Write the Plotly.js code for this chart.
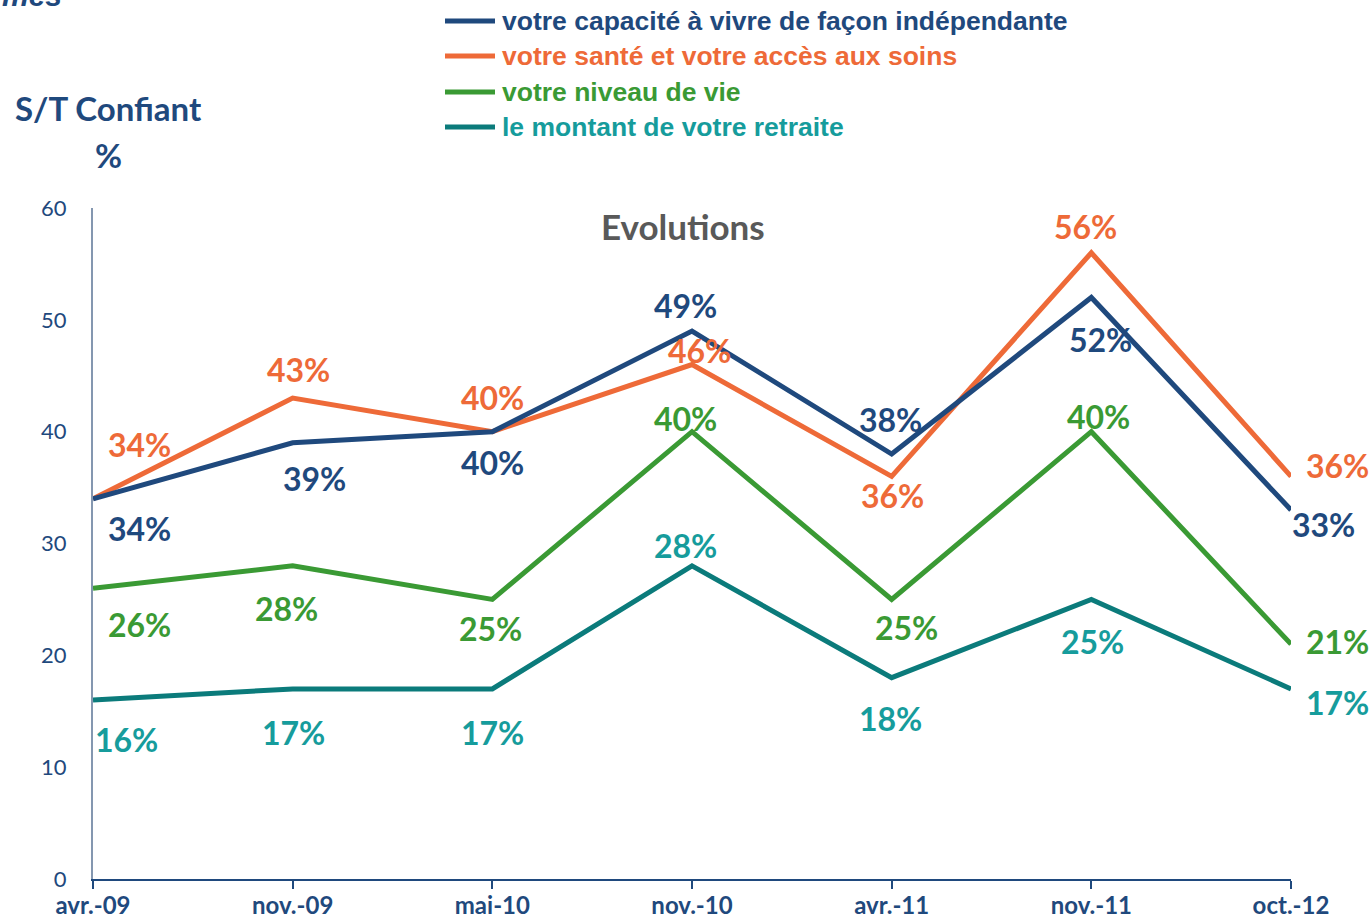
<!DOCTYPE html>
<html>
<head>
<meta charset="utf-8">
<script src="https://cdn.plot.ly/plotly-3.0.1.min.js"></script>
<style>
  body { margin: 0; background: #fff; }
  #chart { width: 1372px; height: 920px; }
</style>
</head>
<body>
<div id="chart"></div>
<script>
// periods
var periods = ['avr.-09', 'nov.-09', 'mai-10', 'nov.-10', 'avr.-11', 'nov.-11', 'oct.-12'];

// % confiant
var independance = [34, 39, 40, 49, 38, 52, 33];
var sante = [34, 43, 40, 46, 36, 56, 36];
var niveauVie = [26, 28, 25, 40, 25, 40, 21];
var retraite = [16, 17, 17, 28, 18, 25, 17];

var names = [
    'votre capacité à vivre de façon indépendante',
    'votre santé et votre accès aux soins',
    'votre niveau de vie',
    'le montant de votre retraite'
];
var lineColors = ['#1F497D', '#EE6A38', '#3A9A34', '#0B7B7B'];
var labelColors = ['#1F497D', '#EE6A38', '#3A9A34', '#169C9C'];

// label offsets in px (dx, dy down) for each point
var offsets = [
    [[46, 30], [22, 36], [0, 31], [-7, -26], [-1, -35], [9, 42], [32, 15]],
    [[46, -54], [6, -29], [0, -34], [7, -14], [1, 19], [-6, -26], [46, -11]],
    [[46, 36], [-6, 43], [-2, 29], [-7, -13], [15, 28], [7, -15], [46, -3]],
    [[33, 39], [1, 44], [0, 44], [-7, -20], [-1, 41], [1, 42], [46, 14]]
];

var series = [independance, sante, niveauVie, retraite];

// plot box in px
var L = 93, R = 81, T = 208, B = 41, W = 1372, H = 920;
function px(x) { return (x - L) / (W - L - R); }
function py(y) { return (H - B - y) / (H - T - B); }

var data = [];
var annotations = [];
var shapes = [];

// draw order: teal, green, orange, blue on top
[3, 2, 1, 0].forEach(function (s) {
    data.push({
        x: periods,
        y: series[s],
        type: 'scatter',
        mode: 'lines',
        name: names[s],
        line: { color: lineColors[s], width: 5 },
        cliponaxis: false,
        showlegend: false,
        hoverinfo: 'skip'
    });
});

series.forEach(function (vals, s) {
    vals.forEach(function (v, i) {
        annotations.push({
            x: periods[i], y: v, xref: 'x', yref: 'y',
            text: v + '%',
            showarrow: false,
            xshift: offsets[s][i][0],
            yshift: -offsets[s][i][1],
            font: { family: 'Lato', size: 32, color: labelColors[s], weight: 'bold' }
        });
    });
});

// legend on top
var legendY = [21, 56, 92, 127];
names.forEach(function (n, s) {
    shapes.push({
        type: 'line', xref: 'paper', yref: 'paper',
        x0: px(445), x1: px(495), y0: py(legendY[s]), y1: py(legendY[s]),
        line: { color: lineColors[s], width: 5 }
    });
    annotations.push({
        xref: 'paper', yref: 'paper', x: px(500), y: py(legendY[s]),
        xanchor: 'left', yanchor: 'middle', showarrow: false,
        text: '<b>' + n + '</b>',
        font: { family: 'Liberation Sans', size: 26.5, color: labelColors[s] }
    });
});

// titles
annotations.push({
    xref: 'paper', yref: 'paper', x: px(683), y: py(226),
    xanchor: 'center', yanchor: 'middle', showarrow: false,
    text: 'Evolutions',
    font: { family: 'Lato', size: 35, color: '#595959', weight: 'bold' }
});
annotations.push({
    xref: 'paper', yref: 'paper', x: px(108), y: py(108),
    xanchor: 'center', yanchor: 'middle', showarrow: false,
    text: 'S/T Confiant',
    font: { family: 'Lato', size: 33, color: '#1F497D', weight: 'bold' }
});
annotations.push({
    xref: 'paper', yref: 'paper', x: px(108), y: py(155),
    xanchor: 'center', yanchor: 'middle', showarrow: false,
    text: '%',
    font: { family: 'Lato', size: 33, color: '#1F497D', weight: 'bold' }
});
annotations.push({
    xref: 'paper', yref: 'paper', x: px(64), y: py(14),
    xanchor: 'right', yanchor: 'bottom', showarrow: false,
    text: '<b><i>mes</i></b>',
    font: { family: 'Liberation Sans', size: 30, color: '#1F497D' }
});

var layout = {
    width: W, height: H,
    margin: { l: L, r: R, t: T, b: B },
    paper_bgcolor: '#fff',
    plot_bgcolor: '#fff',
    showlegend: false,
    xaxis: {
        type: 'category',
        range: [0, 6],
        showgrid: false,
        zeroline: false,
        showline: true,
        linecolor: '#1F497D',
        linewidth: 2,
        ticks: 'outside',
        ticklen: 8,
        tickwidth: 2,
        tickcolor: '#1F497D',
        ticklabelstandoff: -4,
        tickfont: { family: 'Lato', size: 24, color: '#1F497D', weight: 'bold' }
    },
    yaxis: {
        range: [0, 60],
        dtick: 10,
        showgrid: false,
        zeroline: false,
        showline: true,
        linecolor: '#8497B0',
        linewidth: 2,
        ticks: '',
        ticklabelstandoff: 20,
        tickfont: { family: 'Lato', size: 22, color: '#1F497D' }
    },
    annotations: annotations,
    shapes: shapes
};

Plotly.newPlot('chart', data, layout, { displayModeBar: false, staticPlot: true });
</script>
</body>
</html>
